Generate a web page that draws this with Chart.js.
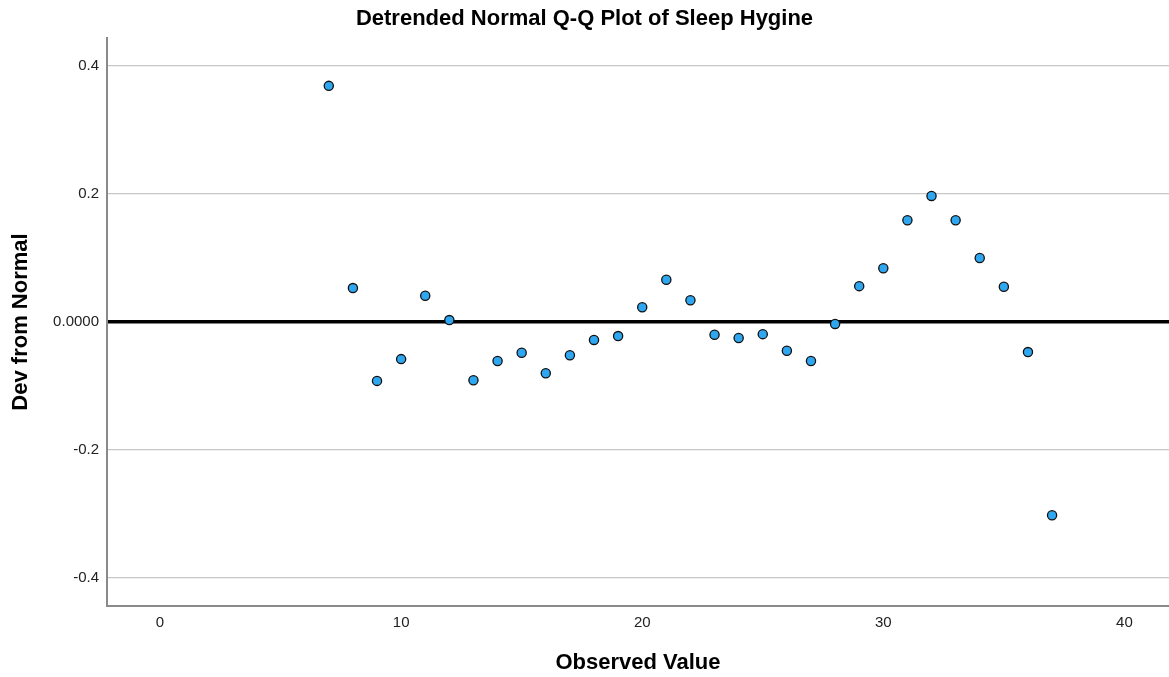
<!DOCTYPE html>
<html>
<head>
<meta charset="utf-8">
<title>Detrended Normal Q-Q Plot of Sleep Hygine</title>
<script src="https://cdn.jsdelivr.net/npm/chart.js@4.4.1/dist/chart.umd.min.js"></script>
<style>
    html, body { margin: 0; padding: 0; background: #fff; }
    #wrap { width: 1169px; height: 677px; position: relative; }
</style>
</head>
<body>
<div id="wrap"><canvas id="qq-chart"></canvas></div>
<script>
const observedValues = [7, 8, 9, 10, 11, 12, 13, 14, 15, 16, 17, 18, 19, 20, 21, 22,
    23, 24, 25, 26, 27, 28, 29, 30, 31, 32, 33, 34, 35, 36, 37];
const devFromNormal = [0.369, 0.053, -0.092, -0.058, 0.041, 0.003, -0.091, -0.061,
    -0.048, -0.080, -0.052, -0.028, -0.022, 0.023, 0.066, 0.034,
    -0.020, -0.025, -0.019, -0.045, -0.061, -0.003, 0.056, 0.084,
    0.159, 0.197, 0.159, 0.100, 0.055, -0.047, -0.302];
const xTicks = [0, 10, 20, 30, 40];
const yTicks = [-0.4, -0.2, 0, 0.2, 0.4];

const FONT = "'Liberation Sans', Arial, sans-serif";

const points = observedValues.map((x, i) => ({ x: x, y: devFromNormal[i] }));

const ctx = document.getElementById('qq-chart').getContext('2d');
new Chart(ctx, {
    type: 'scatter',
    data: {
        datasets: [{
            label: 'Dev from Normal',
            data: points,
            pointRadius: 4.6,
            pointBorderWidth: 1.3,
            pointBackgroundColor: '#2fa6f0',
            pointBorderColor: '#111'
        }]
    },
    options: {
        responsive: true,
        maintainAspectRatio: false,
        animation: false,
        layout: { autoPadding: false, padding: 0 },
        plugins: {
            legend: { display: false },
            tooltip: { enabled: false },
            title: {
                display: true,
                text: 'Detrended Normal Q-Q Plot of Sleep Hygine',
                color: '#000',
                font: { family: FONT, size: 22, weight: 'bold' },
                padding: { top: 6, bottom: 5.6 }
            }
        },
        scales: {
            x: {
                type: 'linear',
                min: -2.2,
                max: 41.85,
                afterBuildTicks: (scale) => { scale.ticks = xTicks.map(v => ({ value: v })); },
                afterFit: (scale) => { scale.height = 71; },
                grid: { display: false, drawTicks: false },
                border: { display: true, color: '#8a8a8a', width: 2 },
                ticks: {
                    color: '#222',
                    padding: 8,
                    maxRotation: 0,
                    font: { family: FONT, size: 15 }
                },
                title: {
                    display: true,
                    text: 'Observed Value',
                    color: '#000',
                    font: { family: FONT, size: 22, weight: 'bold' },
                    padding: { top: 4, bottom: 1 }
                }
            },
            y: {
                type: 'linear',
                min: -0.44375,
                max: 0.44375,
                afterBuildTicks: (scale) => { scale.ticks = yTicks.map(v => ({ value: v })); },
                afterFit: (scale) => { scale.width = 107; },
                grid: {
                    drawTicks: false,
                    color: (c) => c.tick && c.tick.value === 0 ? '#000' : '#c8c8c8',
                    lineWidth: (c) => c.tick && c.tick.value === 0 ? 3.5 : 1.2
                },
                border: { display: true, color: '#8a8a8a', width: 2 },
                ticks: {
                    color: '#222',
                    padding: 8,
                    font: { family: FONT, size: 15 },
                    callback: (v) => v === 0 ? '0.0000' : v.toFixed(1)
                },
                title: {
                    display: true,
                    text: 'Dev from Normal',
                    color: '#000',
                    font: { family: FONT, size: 22, weight: 'bold' },
                    padding: { top: 8, bottom: 4 }
                }
            }
        }
    }
});
</script>
</body>
</html>
